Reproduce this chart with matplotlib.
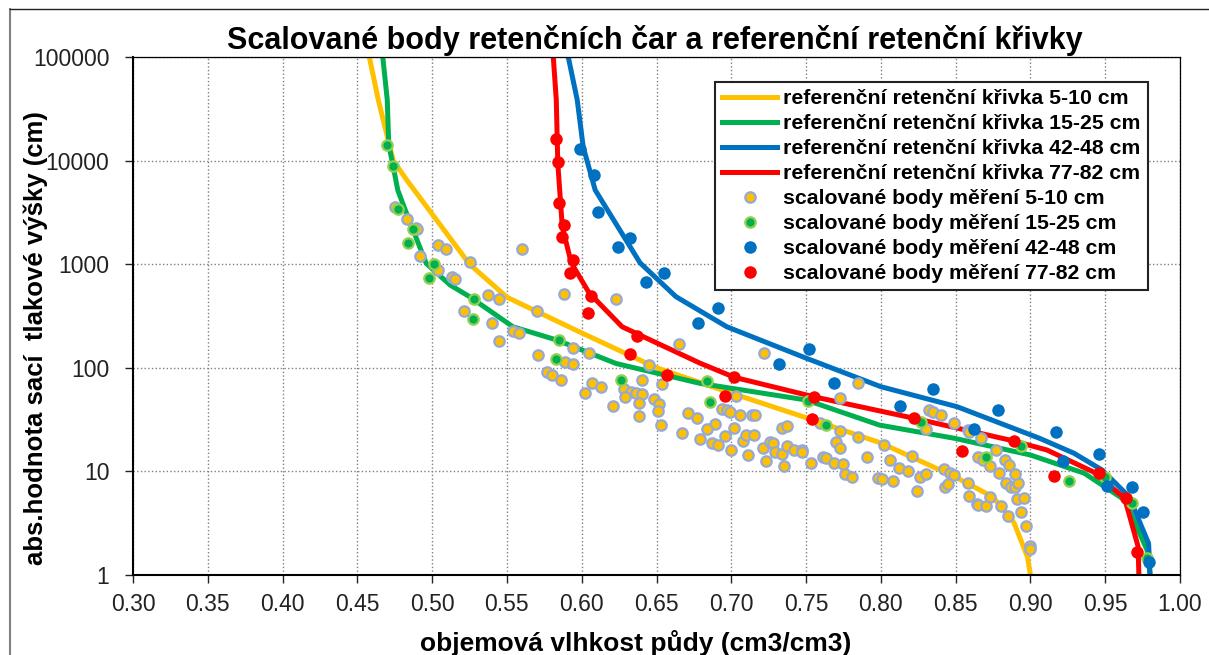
import matplotlib
matplotlib.use("Agg")
import matplotlib.pyplot as plt
from matplotlib.lines import Line2D
from matplotlib.ticker import FixedLocator, FixedFormatter, NullLocator

plt.rcParams["font.family"] = ["Liberation Sans", "DejaVu Sans"]

# reference retention curves (theta, |h| in cm)
ref_5_10_x = [0.458, 0.464, 0.474, 0.483, 0.525, 0.550, 0.600, 0.650, 0.700, 0.750,
              0.800, 0.850, 0.875, 0.889, 0.898, 0.900]
ref_5_10_h = [100000, 38500, 10000, 6500, 1000, 480, 217, 100, 57, 33,
              18.8, 8.8, 5.66, 3.2, 1.5, 1]

ref_15_25_x = [0.467, 0.470, 0.471, 0.474, 0.477, 0.482, 0.496, 0.512, 0.525, 0.554,
               0.583, 0.623, 0.679, 0.750, 0.799, 0.849, 0.900, 0.936, 0.963, 0.978, 0.980]
ref_15_25_h = [100000, 38460, 14150, 8730, 5200, 3340, 1020, 630, 486, 249,
               186, 110, 70.8, 48.9, 28, 20.9, 14.4, 9.6, 5.3, 1.74, 1]

ref_42_48_x = [0.591, 0.597, 0.601, 0.609, 0.639, 0.663, 0.697, 0.750, 0.800, 0.851,
               0.906, 0.929, 0.948, 0.966, 0.979, 0.980]
ref_42_48_h = [100000, 38500, 13530, 5200, 1030, 486, 249, 124, 65.7, 42.1,
               20.9, 15, 10.3, 5.7, 2.02, 1]

ref_77_82_x = [0.581, 0.583, 0.584, 0.587, 0.593, 0.605, 0.627, 0.679, 0.702, 0.755,
               0.822, 0.888, 0.911, 0.942, 0.963, 0.972, 0.9725]
ref_77_82_h = [100000, 38500, 9480, 2300, 1030, 527, 249, 111, 81, 52.6,
               32.6, 19.8, 16.1, 9.9, 5.5, 1.88, 1]

# scaled measured points
pts_5_10_x = [0.475, 0.483, 0.489, 0.490, 0.504, 0.509, 0.492, 0.504, 0.513, 0.515,
              0.525, 0.560, 0.5375, 0.545, 0.521, 0.540, 0.545, 0.554, 0.558, 0.570,
              0.588, 0.623, 0.665, 0.571, 0.594, 0.605, 0.589, 0.594, 0.577, 0.580,
              0.586, 0.645, 0.640, 0.654, 0.607, 0.613, 0.602, 0.628, 0.633, 0.636,
              0.640, 0.629, 0.648, 0.621, 0.638, 0.638, 0.652, 0.651, 0.653, 0.667,
              0.671, 0.677, 0.694, 0.697, 0.699, 0.703, 0.689, 0.684, 0.679, 0.687,
              0.691, 0.696, 0.702, 0.700, 0.706, 0.714, 0.716, 0.708, 0.710, 0.715,
              0.711, 0.722, 0.721, 0.726, 0.728, 0.723, 0.729, 0.734, 0.737, 0.734,
              0.735, 0.737, 0.742, 0.747, 0.747, 0.753, 0.759, 0.773, 0.773, 0.770,
              0.773, 0.761, 0.763, 0.769, 0.775, 0.776, 0.781, 0.785, 0.785, 0.791,
              0.802, 0.798, 0.801, 0.806, 0.808, 0.812, 0.818, 0.821, 0.824, 0.826,
              0.830, 0.832, 0.835, 0.840, 0.830, 0.849, 0.842, 0.846, 0.849, 0.843,
              0.845, 0.858, 0.859, 0.867, 0.858, 0.859, 0.864, 0.865, 0.865, 0.868,
              0.873, 0.873, 0.870, 0.877, 0.879, 0.880, 0.883, 0.886, 0.885, 0.884,
              0.887, 0.890, 0.892, 0.890, 0.891, 0.896, 0.894, 0.897, 0.900, 0.900]
pts_5_10_h = [3590, 2710, 2220, 2170, 1530, 1400, 1190, 879, 748, 720,
              1057, 1400, 508, 461, 356, 269, 180, 228, 218, 351,
              512, 461, 169, 134, 154, 140, 114, 109, 90.5, 85.2,
              76.3, 106, 76.3, 69.8, 71.3, 65.7, 57.5, 62, 58, 56.7,
              55.5, 52.6, 50, 43.1, 45.4, 34.3, 44.7, 38, 28, 23.5,
              36.9, 33, 40, 39.1, 37.7, 53.4, 28.7, 25.7, 20.4, 18.7,
              17.9, 22.1, 26.1, 16.1, 34.8, 35.3, 34.8, 19.5, 22.6, 22.5,
              14.4, 140, 16.9, 19.4, 18.7, 12.6, 15.5, 26.1, 27.2, 14.7,
              11.2, 17.6, 16.1, 16.1, 15.4, 12.1, 29.1, 50.8, 24.7, 19.4,
              16.9, 13.9, 13.6, 12, 11.7, 9.4, 8.9, 70.8, 21.6, 13.9,
              18, 8.6, 8.4, 12.9, 8.1, 10.9, 10.1, 14.1, 6.5, 8.9,
              9.4, 39.1, 37.7, 35, 25.5, 29.5, 10.5, 9.6, 9.2, 7,
              7.5, 25.1, 24.2, 20.9, 7.8, 5.8, 4.8, 4.7, 13.9, 12.9,
              11.3, 5.6, 4.6, 16.1, 9.6, 4.6, 12.9, 11.5, 3.7, 7.8,
              7.0, 7.1, 7.8, 9.4, 5.4, 5.5, 4.1, 3.0, 1.9, 1.8]

pts_15_25_x = [0.470, 0.474, 0.477, 0.487, 0.484, 0.501, 0.498, 0.528, 0.527, 0.585,
               0.583, 0.626, 0.684, 0.686, 0.751, 0.763, 0.827, 0.870, 0.894, 0.926,
               0.950, 0.968, 0.978]
pts_15_25_h = [14150, 8870, 3435, 2187, 1591, 1004, 731, 459, 294, 186,
               121, 76.3, 75, 47.1, 48.1, 28, 29.8, 13.7, 17.6, 8.0,
               8.8, 5.0, 1.45]

pts_42_48_x = [0.599, 0.608, 0.611, 0.632, 0.624, 0.655, 0.643, 0.691, 0.678, 0.732,
               0.752, 0.769, 0.835, 0.813, 0.878, 0.862, 0.917, 0.946, 0.922, 0.951,
               0.968, 0.975, 0.979]
pts_42_48_h = [12900, 7260, 3170, 1800, 1475, 822, 669, 375, 269, 110,
               151, 70.8, 62, 43.1, 39.1, 25.7, 24.2, 14.6, 12.6, 7.3,
               7.1, 4.1, 1.34]

pts_77_82_x = [0.583, 0.584, 0.585, 0.588, 0.587, 0.594, 0.592, 0.606, 0.604, 0.637,
               0.632, 0.657, 0.702, 0.696, 0.755, 0.754, 0.822, 0.854, 0.889, 0.916,
               0.946, 0.964, 0.971]
pts_77_82_h = [16070, 9760, 3925, 2373, 1820, 1098, 828, 497, 336, 203,
               136, 85.8, 82, 53.4, 52.6, 32.3, 32.6, 15.7, 19.7, 9.1,
               9.6, 5.5, 1.66]

x_ticks = [0.30, 0.35, 0.40, 0.45, 0.50, 0.55, 0.60, 0.65, 0.70, 0.75, 0.80, 0.85,
           0.90, 0.95, 1.00]
y_ticks = [1, 10, 100, 1000, 10000, 100000]

YELLOW = "#FFC000"
GREEN = "#00B050"
BLUE = "#0070C0"
RED = "#FF0000"

fig = plt.figure(figsize=(12.09, 6.55), dpi=100)
ax = fig.add_axes([133 / 1209, 80 / 655, 1047 / 1209, 518 / 655])

lw = 3.6
h1, = ax.plot(ref_5_10_x, ref_5_10_h, color=YELLOW, lw=lw, zorder=2,
              label="referenční retenční křivka 5-10 cm")
h2, = ax.plot(ref_15_25_x, ref_15_25_h, color=GREEN, lw=lw, zorder=2,
              label="referenční retenční křivka 15-25 cm")
h3, = ax.plot(ref_42_48_x, ref_42_48_h, color=BLUE, lw=lw, zorder=2,
              label="referenční retenční křivka 42-48 cm")
h4, = ax.plot(ref_77_82_x, ref_77_82_h, color=RED, lw=lw, zorder=2,
              label="referenční retenční křivka 77-82 cm")

h5, = ax.plot(pts_5_10_x, pts_5_10_h, ls="none", marker="o", ms=7.5, mfc=YELLOW,
              mec="#95A9D6", mew=1.6, zorder=3, label="scalované body měření 5-10 cm")
h6, = ax.plot(pts_15_25_x, pts_15_25_h, ls="none", marker="o", ms=7.5, mfc=GREEN,
              mec="#92D050", mew=1.6, zorder=3, label="scalované body měření 15-25 cm")
h7, = ax.plot(pts_42_48_x, pts_42_48_h, ls="none", marker="o", ms=9, mfc=BLUE,
              mec=BLUE, mew=0, zorder=3, label="scalované body měření 42-48 cm")
h8, = ax.plot(pts_77_82_x, pts_77_82_h, ls="none", marker="o", ms=9, mfc=RED,
              mec=RED, mew=0, zorder=3, label="scalované body měření 77-82 cm")

ax.set_yscale("log")
ax.set_xlim(0.30, 1.00)
ax.set_ylim(1, 100000)
ax.yaxis.set_major_locator(FixedLocator(y_ticks))
ax.yaxis.set_major_formatter(FixedFormatter([str(v) for v in y_ticks]))
ax.yaxis.set_minor_locator(NullLocator())
ax.set_xticks(x_ticks)
ax.set_xticklabels([f"{v:.2f}" for v in x_ticks])
ax.tick_params(axis="both", direction="out", length=6, width=1, labelsize=16.5,
               colors="#222222")
ax.tick_params(axis="y", pad=11)
ax.tick_params(axis="x", pad=7)
ax.grid(True, which="major", color="#808080", linestyle=":", linewidth=1)
ax.set_axisbelow(True)
for side in ["top", "right"]:
    ax.spines[side].set_linewidth(0.9)
for side in ["left", "bottom"]:
    ax.spines[side].set_linewidth(1.5)

ax.set_xlabel("objemová vlhkost půdy (cm3/cm3)", fontsize=19, fontweight="bold")
ax.xaxis.set_label_coords(0.48, -0.106)
ax.set_ylabel("abs.hodnota sací  tlakové výšky (cm)", fontsize=18.5, fontweight="bold")
ax.yaxis.set_label_coords(-0.081, 0.457)

fig.text(655 / 1209, 1 - 49 / 655, "Scalované body retenčních čar a referenční retenční křivky",
         ha="center", va="baseline", fontsize=22, fontweight="bold")

leg = ax.legend(handles=[h1, h2, h3, h4, h5, h6, h7, h8], loc="upper right",
                bbox_to_anchor=(0.969, 0.952), borderaxespad=0,
                prop={"weight": "bold", "size": 15.3}, handlelength=2.6,
                handletextpad=0.25, labelspacing=0.28, borderpad=0.35, numpoints=1,
                fancybox=False, framealpha=1, edgecolor="#222222")
leg.get_frame().set_linewidth(1.5)

# outer chart-area border
fig.add_artist(Line2D([10 / 1209, 10 / 1209], [0, 1 - 9 / 655], transform=fig.transFigure,
                      color="#808080", lw=1.5))
fig.add_artist(Line2D([10 / 1209, 1], [1 - 9 / 655, 1 - 9 / 655], transform=fig.transFigure,
                      color="#222222", lw=1))

fig.savefig("out.png", dpi=100)
